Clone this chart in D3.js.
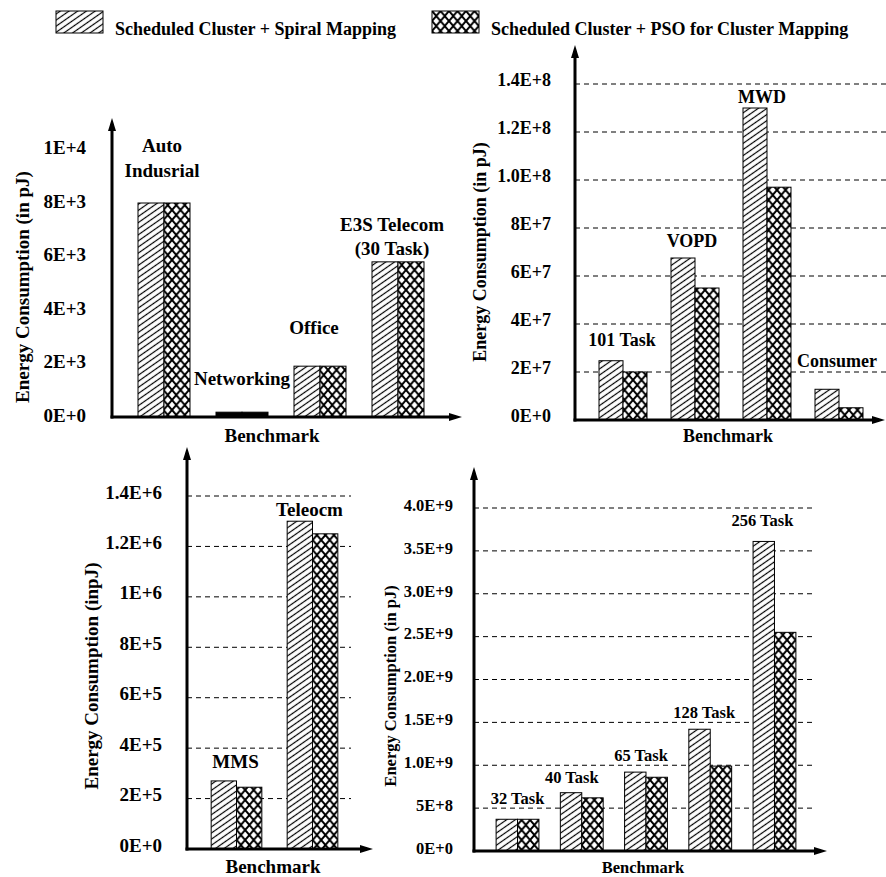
<!DOCTYPE html>
<html><head><meta charset="utf-8">
<script src="https://cdn.jsdelivr.net/npm/d3@7"></script>
<style>
html,body{margin:0;padding:0;background:#fff;}
svg{display:block;font-family:"Liberation Serif","Times New Roman",serif;font-weight:bold;}
</style></head><body>
<svg id="chart" width="886" height="877"></svg>
<script>
// ---- data ----
const seriesNames = ["Scheduled Cluster + Spiral Mapping", "Scheduled Cluster + PSO for Cluster Mapping"];

const catsA = ["Auto\nIndusrial", "Networking", "Office", "E3S Telecom\n(30 Task)"];
const spiralA = [8000, 180, 1900, 5800];
const psoA = [8000, 180, 1900, 5800];
const ticksA = [0, 2000, 4000, 6000, 8000, 10000];
const tickLabelsA = ["0E+0", "2E+3", "4E+3", "6E+3", "8E+3", "1E+4"];

const catsB = ["101 Task", "VOPD", "MWD", "Consumer"];
const spiralB = [2.47e7, 6.75e7, 1.30e8, 1.28e7];
const psoB = [2.0e7, 5.5e7, 9.7e7, 5.1e6];
const ticksB = [0, 2e7, 4e7, 6e7, 8e7, 1e8, 1.2e8, 1.4e8];
const tickLabelsB = ["0E+0", "2E+7", "4E+7", "6E+7", "8E+7", "1.0E+8", "1.2E+8", "1.4E+8"];

const catsC = ["MMS", "Teleocm"];
const spiralC = [2.7e5, 1.3e6];
const psoC = [2.45e5, 1.25e6];
const ticksC = [0, 2e5, 4e5, 6e5, 8e5, 1e6, 1.2e6, 1.4e6];
const tickLabelsC = ["0E+0", "2E+5", "4E+5", "6E+5", "8E+5", "1E+6", "1.2E+6", "1.4E+6"];

const catsD = ["32 Task", "40 Task", "65 Task", "128 Task", "256 Task"];
const spiralD = [3.7e8, 6.8e8, 9.2e8, 1.42e9, 3.61e9];
const psoD = [3.7e8, 6.2e8, 8.6e8, 9.9e8, 2.55e9];
const ticksD = [0, 5e8, 1e9, 1.5e9, 2e9, 2.5e9, 3e9, 3.5e9, 4e9];
const tickLabelsD = ["0E+0", "5E+8", "1.0E+9", "1.5E+9", "2.0E+9", "2.5E+9", "3.0E+9", "3.5E+9", "4.0E+9"];

// ---- layout ----
const svg = d3.select("#chart");
const defs = svg.append("defs");

// diagonal hatch for the spiral-mapping series
const hatch = defs.append("pattern").attr("id", "hatch")
  .attr("patternUnits", "userSpaceOnUse").attr("width", 5).attr("height", 5)
  .attr("patternTransform", "rotate(-35)");
hatch.append("rect").attr("width", 5).attr("height", 5).attr("fill", "#fff");
hatch.append("line").attr("x1", 0).attr("y1", 2.5).attr("x2", 5).attr("y2", 2.5)
  .attr("stroke", "#000").attr("stroke-width", 1.2);

// diamond cross-hatch for the PSO series
const cross = defs.append("pattern").attr("id", "cross")
  .attr("patternUnits", "userSpaceOnUse").attr("width", 8.5).attr("height", 10);
cross.append("rect").attr("width", 8.5).attr("height", 10).attr("fill", "#fff");
cross.append("path").attr("d", "M0,0L8.5,10M8.5,0L0,10")
  .attr("stroke", "#000").attr("stroke-width", 2).attr("fill", "none");

const fills = ["url(#hatch)", "url(#cross)"];

const panels = [
  { cats: catsA, s1: spiralA, s2: psoA, ticks: ticksA, tickLabels: tickLabelsA,
    yTitle: "Energy Consumption (in pJ)", font: 19,
    x0: 112, zeroY: 417, topVal: 10000, topValY: 149.5, axisTop: 118, xEnd: 462,
    band: [125, 437], grid: null, tickPad: 26, tickDy: -2,
    titleX: 22, titleY: 287, benchX: 272, benchY: 442,
    clip: [0, 40, 470, 404],
    labels: [{dx: -2, dy: [-51, -26]}, {dx: 0, dy: [-27]}, {dx: -6, dy: [-32]}, {dx: -6, dy: [-31, -7]}] },
  { cats: catsB, s1: spiralB, s2: psoB, ticks: ticksB, tickLabels: tickLabelsB,
    yTitle: "Energy Consumption (in pJ)", font: 18,
    x0: 575, zeroY: 420, topVal: 1.4e8, topValY: 84, axisTop: 45, xEnd: 885,
    band: [587, 875], grid: 886, tickPad: 24, tickDy: -4,
    titleX: 480, titleY: 252, benchX: 728, benchY: 442,
    clip: [462, 40, 424, 404],
    labels: [{dx: -1, dy: [-15]}, {dx: -3, dy: [-11]}, {dx: -5, dy: [-5]}, {dx: -2, dy: [-22]}] },
  { cats: catsC, s1: spiralC, s2: psoC, ticks: ticksC, tickLabels: tickLabelsC,
    yTitle: "Energy Consumption (inpJ)", font: 19,
    x0: 187, zeroY: 849, topVal: 1.4e6, topValY: 496, axisTop: 447, xEnd: 373,
    band: [198.5, 350.5], grid: 351, tickPad: 25, tickDy: -4,
    titleX: 91, titleY: 676, benchX: 273, benchY: 873,
    clip: [0, 444, 380, 433],
    labels: [{dx: -1, dy: [-13]}, {dx: -3, dy: [-5]}] },
  { cats: catsD, s1: spiralD, s2: psoD, ticks: ticksD, tickLabels: tickLabelsD,
    yTitle: "Energy Consumption (in pJ)", font: 16.5,
    x0: 474, zeroY: 851, topVal: 4e9, topValY: 508, axisTop: 467, xEnd: 827,
    band: [485.4, 806.6], grid: 812, tickPad: 21, tickDy: -3,
    titleX: 390, titleY: 686, benchX: 643, benchY: 873,
    clip: [380, 444, 506, 433],
    labels: [{dx: 0, dy: [-15]}, {dx: -10, dy: [-10]}, {dx: -5, dy: [-11]}, {dx: -6, dy: [-11]}, {dx: -12, dy: [-15]}] }
];

panels.forEach((p, pi) => {
  const clipId = "clip" + pi;
  defs.append("clipPath").attr("id", clipId).append("rect")
    .attr("x", p.clip[0]).attr("y", p.clip[1]).attr("width", p.clip[2]).attr("height", p.clip[3]);
  const g = svg.append("g").attr("clip-path", `url(#${clipId})`);

  const y = d3.scaleLinear().domain([0, p.topVal]).range([p.zeroY, p.topValY]);
  const x = d3.scaleBand().domain(p.cats).range(p.band).paddingInner(1 / 3).paddingOuter(1 / 6);
  const xs = d3.scaleBand().domain([0, 1]).range([0, x.bandwidth()]);

  // dashed grid lines
  if (p.grid) {
    g.append("g").selectAll("line").data(p.ticks.filter(t => t > 0)).join("line")
      .attr("x1", p.x0).attr("x2", p.grid)
      .attr("y1", d => y(d)).attr("y2", d => y(d))
      .attr("stroke", "#000").attr("stroke-width", 1).attr("stroke-dasharray", "5,4");
  }

  // bars
  const rows = p.cats.map((c, i) => ({ cat: c, vals: [p.s1[i], p.s2[i]] }));
  const grp = g.append("g").selectAll("g").data(rows).join("g")
    .attr("transform", d => `translate(${x(d.cat)},0)`);
  grp.selectAll("rect").data(d => d.vals.map((v, k) => ({ v, k }))).join("rect")
    .attr("x", d => xs(d.k)).attr("width", xs.bandwidth())
    .attr("y", d => y(d.v)).attr("height", d => p.zeroY - y(d.v))
    // bars only a few pixels tall are too short to show a pattern
    .attr("fill", d => (p.zeroY - y(d.v) < 6 ? "#000" : fills[d.k]))
    .attr("stroke", "#000").attr("stroke-width", 1);

  // category labels above each group
  rows.forEach((r, i) => {
    const lab = p.labels[i];
    const top = y(Math.max(...r.vals));
    const cx = x(r.cat) + x.bandwidth() / 2 + lab.dx;
    r.cat.split("\n").forEach((line, li) => {
      g.append("text").attr("x", cx).attr("y", top + lab.dy[li])
        .attr("text-anchor", "middle").attr("font-size", p.font).text(line);
    });
  });

  // y tick labels
  const ax = g.append("g").attr("transform", `translate(${p.x0},0)`)
    .call(d3.axisLeft(y).tickValues(p.ticks).tickFormat((d, i) => p.tickLabels[i])
      .tickSize(0).tickPadding(p.tickPad));
  ax.select(".domain").remove();
  ax.attr("font-family", null);
  ax.selectAll("text").attr("font-size", p.font).attr("fill", "#000")
    .attr("transform", `translate(0,${p.tickDy})`);

  // axes with arrow heads
  g.append("line").attr("x1", p.x0).attr("x2", p.x0).attr("y1", p.zeroY + 1.5).attr("y2", p.axisTop + 6)
    .attr("stroke", "#000").attr("stroke-width", 3);
  g.append("line").attr("x1", p.x0 - 1.5).attr("x2", p.xEnd - 6).attr("y1", p.zeroY).attr("y2", p.zeroY)
    .attr("stroke", "#000").attr("stroke-width", 3);
  g.append("path").attr("d", `M${p.x0 - 4},${p.axisTop + 13}L${p.x0},${p.axisTop}L${p.x0 + 4},${p.axisTop + 13}Z`)
    .attr("fill", "#000");
  g.append("path").attr("d", `M${p.xEnd - 13},${p.zeroY - 4}L${p.xEnd},${p.zeroY}L${p.xEnd - 13},${p.zeroY + 4}Z`)
    .attr("fill", "#000");

  // axis titles
  g.append("text").attr("transform", `translate(${p.titleX},${p.titleY}) rotate(-90)`)
    .attr("text-anchor", "middle").attr("dy", "0.35em").attr("font-size", p.font).text(p.yTitle);
  g.append("text").attr("x", p.benchX).attr("y", p.benchY)
    .attr("text-anchor", "middle").attr("font-size", p.font).text("Benchmark");
});

// legend
const legendX = [56, 432];
const leg = svg.append("g").selectAll("g").data(seriesNames).join("g")
  .attr("transform", (d, i) => `translate(${legendX[i]},11)`);
leg.append("rect").attr("width", 47).attr("height", 22)
  .attr("fill", (d, i) => fills[i]).attr("stroke", "#000").attr("stroke-width", 1);
leg.append("text").attr("x", 59).attr("y", 24).attr("font-size", 18).text(d => d);
</script>
</body></html>
